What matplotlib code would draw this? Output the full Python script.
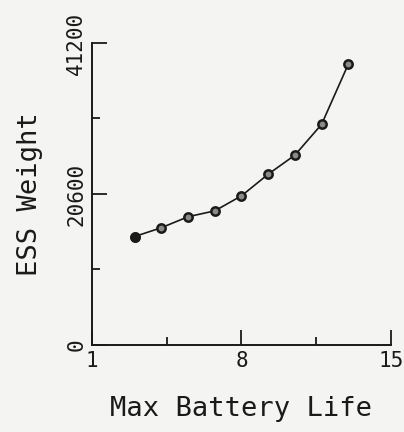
import numpy as np
from matplotlib import pyplot as plt

# max battery life vs. ESS weight
battery_life = [3.0, 4.25, 5.5, 6.75, 8.0, 9.25, 10.5, 11.75, 13.0]
ess_weight = [14800, 16000, 17500, 18300, 20350, 23300, 25900, 30100, 38300]

x_ticks = [1, 8, 15]
x_tick_labels = ['1', '8', '15']
y_ticks = [0, 20600, 41200]
y_tick_labels = ['0', '20600', '41200']

bg = '#f4f4f2'
ink = '#1a1a1a'
plt.rcParams['font.family'] = ['DejaVu Sans Mono']

fig = plt.figure(figsize=(4.04, 4.32), dpi=100, facecolor=bg)
ax = fig.add_axes([0.2277, 0.2014, 0.7401, 0.6991], facecolor=bg)

ax.plot(battery_life, ess_weight, color=ink, lw=1.2,
        marker='o', ms=6, mfc='#8a8a88', mec=ink, mew=1.8)
ax.plot(battery_life[:1], ess_weight[:1], 'o', color=ink, ms=6.5)

ax.set_xlim(1, 15)
ax.set_ylim(0, 41200)
for side in ('top', 'right'):
    ax.spines[side].set_visible(False)
for side in ('left', 'bottom'):
    ax.spines[side].set_linewidth(1.4)
    ax.spines[side].set_color(ink)

ax.set_xticks(x_ticks)
ax.set_xticklabels(x_tick_labels)
ax.set_xticks([4.5, 11.5], minor=True)
ax.set_yticks(y_ticks)
ax.set_yticklabels(y_tick_labels, rotation=90, va='center')
ax.set_yticks([10300, 30900], minor=True)

ax.tick_params(which='major', direction='in', length=11, width=1.3,
               color=ink, labelcolor=ink, labelsize=15, pad=4)
ax.tick_params(which='minor', direction='in', length=6, width=1.3, color=ink)

ax.set_xlabel('Max Battery Life', fontsize=19.5, color=ink)
ax.set_ylabel('ESS Weight', fontsize=19.5, color=ink)
ax.xaxis.set_label_coords(0.5, -0.17)
ax.yaxis.set_label_coords(-0.165, 0.5)

fig.savefig('out.png', dpi=100, facecolor=bg)
